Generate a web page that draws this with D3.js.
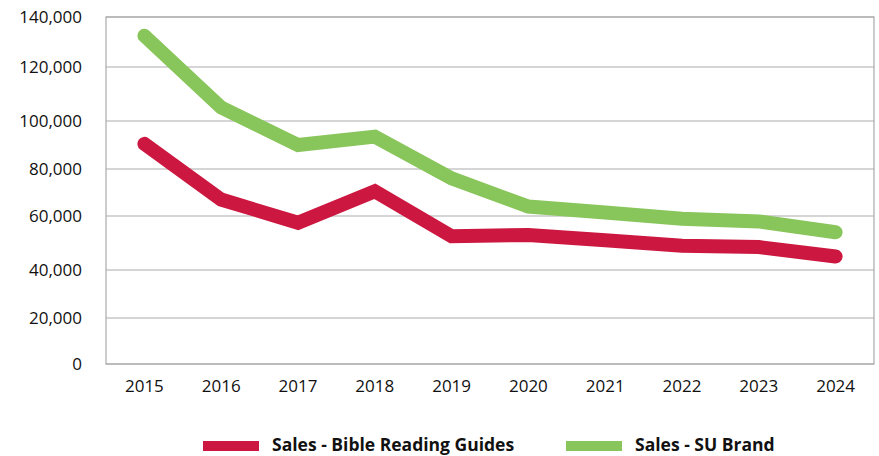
<!DOCTYPE html>
<html><head><meta charset="utf-8">
<script src="https://cdn.jsdelivr.net/npm/d3@7"></script>
<style>body{margin:0;background:#fff;}svg{display:block;font-family:"Open Sans",sans-serif;}</style>
</head><body>
<svg id="c" width="879" height="456"></svg>
<script>
const years = ["2015","2016","2017","2018","2019","2020","2021","2022","2023","2024"];
const bibleGuides = [90500, 67000, 57500, 70500, 52500, 53000, 51000, 49000, 48500, 45000];
const suBrand = [132500, 105000, 90000, 93500, 76000, 64000, 61500, 59000, 58000, 54000];
const yTicks = [0, 20000, 40000, 60000, 80000, 100000, 120000, 140000];
const seriesNames = ["Sales - Bible Reading Guides", "Sales - SU Brand"];
const colors = ["#CC1740", "#88C55A"];

const svg = d3.select("#c");
const L = 106, R = 874, T = 17, B = 364;
const x = d3.scaleBand().domain(years).range([L, R]);
// the reference's gridlines are not evenly spaced; piecewise-linear scale follows them
const y = d3.scaleLinear().domain(yTicks).range([B, 318, 270, 216, 169, 121, 67, T]);
const fmt = d3.format(",");

// gridlines
svg.append("g").selectAll("line").data(yTicks).join("line")
  .attr("x1", L).attr("x2", R).attr("y1", d => y(d)).attr("y2", d => y(d))
  .attr("stroke", "#ABABAB").attr("stroke-width", 1.2);
// border
svg.append("rect").attr("x", L).attr("y", T).attr("width", R - L).attr("height", B - T)
  .attr("fill", "none").attr("stroke", "#ABABAB").attr("stroke-width", 1.2);

// y axis
const ya = svg.append("g").attr("transform", `translate(${L},0)`)
  .call(d3.axisLeft(y).tickValues(yTicks).tickFormat(fmt).tickSize(0).tickPadding(24));
ya.select(".domain").remove();
ya.selectAll("text").attr("font-size", 17).attr("fill", "#111").attr("font-family", "Open Sans");

// x axis
const xa = svg.append("g").attr("transform", `translate(0,${B})`)
  .call(d3.axisBottom(x).tickSize(0).tickPadding(16));
xa.select(".domain").remove();
xa.selectAll("text").attr("font-size", 17).attr("fill", "#111").attr("font-family", "Open Sans");

// lines
const line = d3.line().x((d, i) => x(years[i]) + x.bandwidth() / 2).y(d => y(d));
[bibleGuides, suBrand].forEach((s, k) => {
  svg.append("path").datum(s).attr("d", line).attr("fill", "none")
    .attr("stroke", colors[k]).attr("stroke-width", 14)
    .attr("stroke-linecap", "round").attr("stroke-linejoin", "miter");
});

// legend
const legX = [203, 566];
seriesNames.forEach((n, k) => {
  const g = svg.append("g").attr("transform", `translate(${legX[k]},0)`);
  g.append("rect").attr("x", 0).attr("y", 441).attr("width", 56).attr("height", 10).attr("fill", colors[k]);
  g.append("text").attr("x", 69).attr("y", 451).attr("font-size", 17.5).attr("font-weight", "bold")
    .attr("fill", "#111").text(n);
});
</script>
</body></html>
